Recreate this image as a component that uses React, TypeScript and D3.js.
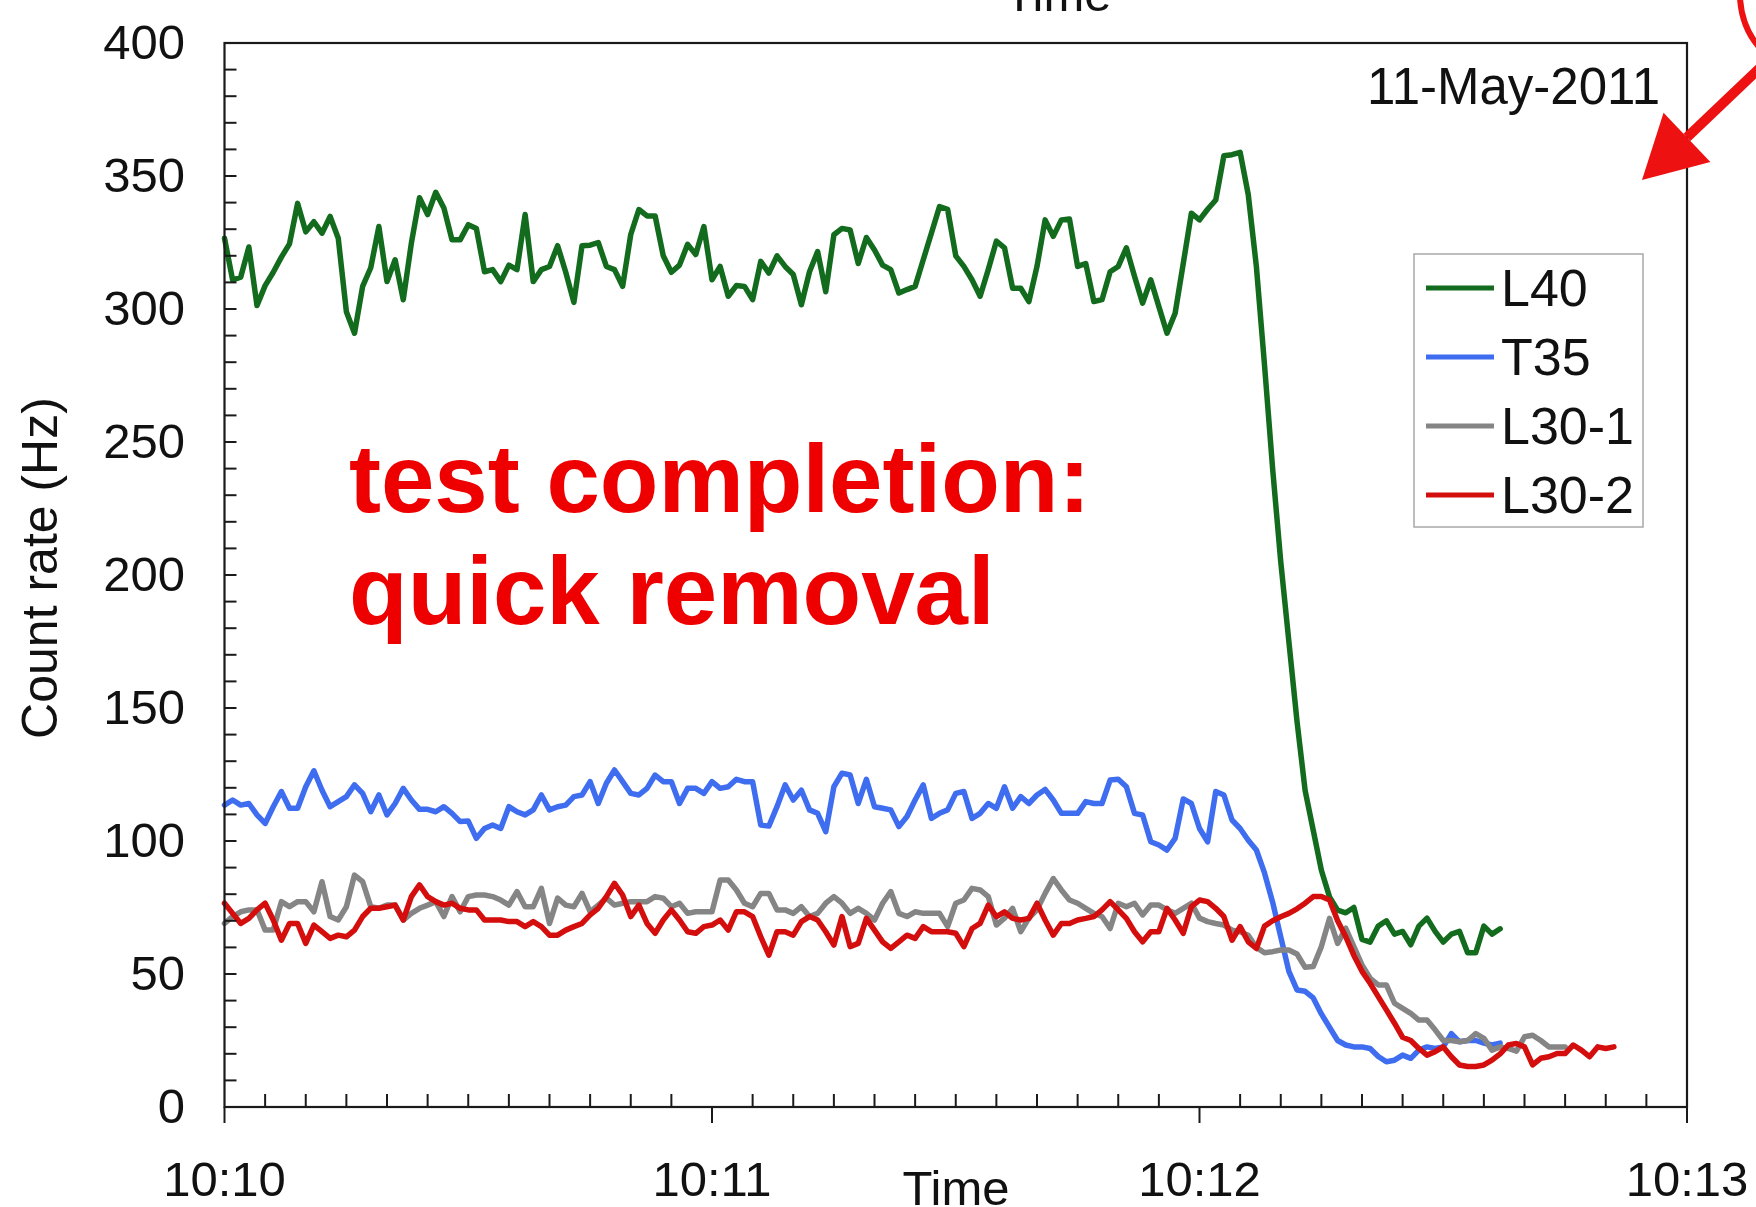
import React from "react";
import * as d3 from "d3";

// Count rates sampled once per second, starting at 10:10:00
const L40 = [
  326.6, 310.9, 312, 323.3, 301.3, 308.8, 313.8, 319.5, 324.5, 339.7, 329, 332.8, 328.5, 334.8, 326.6, 299,
  290.9, 308.5, 315.5, 331, 310.3, 318.5, 303.5, 324.8, 341.8, 335.5, 343.9, 338, 326, 326, 331.7, 330.3,
  314, 314.8, 310.3, 316.5, 314.8, 335.5, 310.3, 314.8, 316, 323.8, 313.8, 302.5, 323.8, 324, 325, 316,
  314.8, 308.5, 328, 337.4, 335, 335, 320, 313.8, 316.5, 324.3, 320.5, 331, 311, 316, 304.8, 308.8,
  308.5, 303.5, 317.9, 313.5, 320, 316, 313, 301.6, 314, 321.6, 306.5, 327.9, 330.3, 329.7, 317.1, 326.9,
  322.2, 316.5, 314.8, 306, 307.3, 308.5, 318.5, 328.5, 338.5, 337.5, 320, 316, 311, 304.8, 314.8, 325.5,
  323, 307.8, 307.8, 302.8, 316, 333.5, 327.3, 333.5, 333.8, 316, 317.1, 302.8, 303.5, 314, 316, 323,
  312.3, 302.2, 311, 300.9, 290.9, 298.4, 317.1, 336, 333.5, 337.5, 341, 357.6, 358, 358.9,
  343, 316, 279, 240, 205, 175, 145, 119, 104, 89, 79, 74, 73, 75, 63, 62,
  68, 70, 65, 66, 61, 68, 71, 66, 62, 65, 66, 58, 58, 68, 65, 67,
];

const T35 = [
  113.5, 115.4, 113.5, 114.1, 109.8, 106.6, 112.9, 118.6, 112.3, 112.3, 120.4, 126.4, 119.1, 112.9, 114.8, 116.7,
  121.1, 117.9, 111, 117.3, 109.8, 114.1, 119.8, 115.4, 111.9, 111.9, 111, 112.9, 110.4, 107.3, 107.5, 101,
  104.7, 106, 104.7, 112.9, 111, 109.8, 111.7, 117.3, 111.7, 112.9, 113.5, 116.7, 117.3, 122.3, 114.1, 121.7,
  126.7, 122.3, 117.9, 117.3, 119.8, 124.8, 122.3, 122.3, 114.1, 119.8, 119.8, 117.9, 122.3, 119.8, 120.4, 123.2,
  122.3, 122.3, 106, 105.6, 112.9, 121.1, 115.4, 119.1, 111.7, 110.4, 103.5, 120.4, 125.5, 124.8, 114.1, 123.2,
  112.9, 112.3, 111.7, 105.4, 109.2, 115.4, 121.1, 108.5, 110.4, 111.7, 117.9, 118.6, 108.5, 110.4, 114.1, 112.3,
  120.4, 112.3, 116.7, 114.1, 117.3, 119.4, 115.4, 110.4, 110.4, 110.4, 114.8, 114.1, 114.1, 122.9, 123.2, 120.4,
  110.4, 109.8, 99.7, 98.5, 96.6, 101, 115.8, 114.1, 104.7, 99.7, 118.6, 117.3, 107.9, 104.7, 100.3, 96.6,
  88, 77, 64, 51, 44, 43.5, 41, 35, 30, 25, 23.3, 22.6, 22.6, 22, 19, 17,
  17.6, 19.5, 18.3, 21.4, 22.6, 22, 22.6, 27.6, 24.5, 25, 25, 24, 23.3, 24,
];

const L30_1 = [
  69, 71.6, 73.4, 74.1, 74.1, 66.5, 66.5, 77.2, 75.3, 77.2, 77.2, 73.4, 84.7, 71.6, 70.3, 75.3,
  87.2, 84.7, 75.3, 74.7, 75.9, 75.9, 70.3, 72.8, 74.7, 75.9, 77.2, 71.6, 79.1, 73.4, 79.1, 79.7,
  79.7, 79.1, 77.8, 75.9, 81, 75.3, 75.3, 82.2, 69, 78.5, 75.9, 75.3, 80.3, 73.4, 75.9, 78.5,
  75.9, 76.6, 77.2, 77.2, 77.2, 79.1, 78.5, 75.3, 76.6, 72.8, 73.4, 73.4, 73.4, 85.3, 85.3, 81.6,
  76.6, 75.3, 80.3, 80.3, 74.1, 74.1, 72.8, 75.3, 71.6, 72.8, 76.6, 79.1, 76.6, 72.8, 74.7, 72.8,
  70.3, 76.6, 81, 72.8, 71.6, 73.4, 72.8, 72.8, 72.8, 67.8, 76.6, 77.8, 82.2, 81.6, 79.1, 68.4,
  71, 74.7, 65.9, 71, 74.1, 80.3, 85.9, 81.6, 77.8, 76.6, 74.7, 72.8, 71.6, 67.1, 76.6, 75.3,
  76.6, 72.2, 75.9, 75.9, 74.1, 72.8, 74.7, 76.6, 71, 69.7, 69, 68.4, 66.5, 65.9, 64.6, 60,
  58, 58.4, 59, 59, 57.5, 52.5, 52.8, 60.3, 70.9, 61.5, 67.2, 60.3, 53.4, 48.4, 45.9, 45.9,
  39, 37.1, 35.2, 32.7, 32.7, 29, 25, 25, 24.5, 25, 27.6, 25.8, 21.4, 22.6, 22, 21,
  26.4, 27, 25, 22.6, 22.6, 22.6,
];

const L30_2 = [
  76.6, 72.8, 69, 70.9, 74.1, 76.6, 70.3, 62.7, 69, 69, 61.5, 68.4, 65.9, 63.4, 64.6, 64,
  66.5, 71.6, 74.7, 74.7, 75.3, 75.9, 70.3, 79.1, 83.5, 79.1, 77.2, 75.9, 76.6, 74.7, 74.1, 74.1,
  70.3, 70.3, 70.3, 69.7, 69.7, 67.8, 69.7, 67.8, 64.6, 64.6, 66.5, 67.8, 69, 72.2, 74.7, 79.1,
  84.1, 79.7, 71.6, 75.9, 69, 65.3, 70.3, 74.1, 70.3, 65.9, 65.3, 67.8, 68.4, 70.3, 66.5, 73.4,
  73.4, 71.6, 64, 57.1, 65.9, 65.9, 64.6, 69.7, 71.6, 70.3, 65.9, 60.9, 71.6, 60.3, 61.5, 70.9,
  66.5, 62.1, 59.6, 62.1, 64.6, 63.4, 67.8, 65.9, 65.9, 65.9, 65.3, 60.3, 67.1, 69, 75.9, 71.6,
  73.4, 70.9, 70.3, 70.9, 76.6, 70.3, 64.6, 69, 69, 70.3, 70.9, 71.6, 74.1, 77.2, 74.1, 70.9,
  65.9, 62.1, 65.9, 65.9, 74.7, 70.3, 65.3, 75.3, 77.8, 77.2, 74.7, 71.6, 62.7, 67.8, 62.1, 59.6,
  68, 70, 71.5, 72.8, 74.5, 76.6, 79.1, 79.1, 77.8, 70, 64, 57, 51, 46.5, 41.5, 36.5,
  31.5, 26.2, 25, 22, 19.5, 20.8, 22.6, 18.9, 15.8, 15.2, 15.2, 15.8, 17.6, 20, 23.3, 23.9,
  22.6, 15.8, 18.3, 18.9, 20.1, 20.1, 23.3, 21.4, 18.9, 22.6, 22, 22.6,
];

const SERIES_NAMES = ["L40", "T35", "L30-1", "L30-2"];
const SERIES_VALUES = [L40, T35, L30_1, L30_2];
const SERIES_COLORS = ["#136b1e", "#3f6df0", "#858585", "#d40d0d"];

const X_TICK_SECONDS = [0, 60, 120, 180];
const X_TICK_LABELS = ["10:10", "10:11", "10:12", "10:13"];
const Y_TICKS = [0, 50, 100, 150, 200, 250, 300, 350, 400];

const DATE_LABEL = "11-May-2011";
const NOTE_LINES = ["test completion:", "quick removal"];

const W = 1756;
const H = 1207;
const FONT = "'Liberation Sans', Arial, Helvetica, sans-serif";

export default function App() {
  const left = 224.5;
  const right = 1687;
  const top = 43;
  const bottom = 1107;

  const x = d3.scaleLinear().domain([0, 180]).range([left, right]);
  const y = d3.scaleLinear().domain([0, 400]).range([bottom, top]);

  const line = d3
    .line<number>()
    .x((_, i) => x(i))
    .y((v) => y(v))
    .curve(d3.curveLinear);

  const minorX = d3.range(5, 180, 5).filter((s) => s % 60 !== 0);
  const minorY = d3.range(10, 400, 10);

  // arrow pointing down-left toward the date label
  const tip: [number, number] = [1642, 180];
  const tail: [number, number] = [1762, 66];
  const dx = tail[0] - tip[0];
  const dy = tail[1] - tip[1];
  const len = Math.hypot(dx, dy);
  const ux = dx / len;
  const uy = dy / len;
  const headLen = 62;
  const headHalf = 34;
  const bx = tip[0] + ux * headLen;
  const by = tip[1] + uy * headLen;
  const head = [
    tip,
    [bx - uy * headHalf, by + ux * headHalf],
    [bx + uy * headHalf, by - ux * headHalf],
  ];

  const legendX = 1414;
  const legendY = 254;
  const legendRow = 69;

  return (
    <svg
      width={W}
      height={H}
      viewBox={`0 0 ${W} ${H}`}
      style={{ position: "absolute", left: 0, top: 0, display: "block", background: "#fff" }}
      fontFamily={FONT}
    >
      <rect x={0} y={0} width={W} height={H} fill="#fff" />

      {/* axis title of the panel above, cut by the top edge */}
      <text x={1058} y={11} fontSize={49} textAnchor="middle" fill="#111">
        Time
      </text>

      {/* series */}
      <g fill="none" strokeWidth={5.5} strokeLinejoin="round" strokeLinecap="round">
        {SERIES_VALUES.map((vals, k) => (
          <path key={SERIES_NAMES[k]} d={line(vals) ?? ""} stroke={SERIES_COLORS[k]} />
        ))}
      </g>

      {/* frame */}
      <rect x={left} y={top} width={right - left} height={bottom - top} fill="none" stroke="#1a1a1a" strokeWidth={2.2} />

      {/* ticks: minor ones inside, minute marks below the axis */}
      <g stroke="#1a1a1a" strokeWidth={2}>
        {minorY.map((v) => (
          <line key={v} x1={left} x2={left + 12} y1={y(v)} y2={y(v)} />
        ))}
        {minorX.map((s) => (
          <line key={s} x1={x(s)} x2={x(s)} y1={bottom} y2={bottom - 13} />
        ))}
        {X_TICK_SECONDS.map((s) => (
          <line key={"M" + s} x1={x(s)} x2={x(s)} y1={bottom} y2={bottom + 16} />
        ))}
      </g>

      {/* tick labels */}
      <g fontSize={49} fill="#111">
        {Y_TICKS.map((v) => (
          <text key={v} x={185} y={y(v) + 16} textAnchor="end">
            {v}
          </text>
        ))}
        {X_TICK_SECONDS.map((s, i) => (
          <text key={s} x={x(s)} y={1196} textAnchor="middle">
            {X_TICK_LABELS[i]}
          </text>
        ))}
      </g>

      <text x={956} y={1205} fontSize={49} textAnchor="middle" fill="#111">
        Time
      </text>
      <text
        transform={`translate(57, 568) rotate(-90)`}
        fontSize={50}
        textAnchor="middle"
        fill="#111"
      >
        Count rate (Hz)
      </text>

      <text x={1660} y={104} fontSize={51} textAnchor="end" fill="#111">
        {DATE_LABEL}
      </text>

      {/* legend */}
      <rect x={legendX} y={legendY} width={229} height={273} fill="#fff" stroke="#a8a8a8" strokeWidth={1.5} />
      {SERIES_NAMES.map((name, k) => {
        const ly = legendY + 34 + k * legendRow;
        return (
          <g key={name}>
            <line x1={legendX + 12} x2={legendX + 80} y1={ly} y2={ly} stroke={SERIES_COLORS[k]} strokeWidth={5} />
            <text x={legendX + 87} y={ly + 18} fontSize={52} fill="#111">
              {name}
            </text>
          </g>
        );
      })}

      {/* annotation */}
      <g fontSize={96} fontWeight="bold" fill="#ee0000">
        <text x={349} y={512}>{NOTE_LINES[0]}</text>
        <text x={349} y={624}>{NOTE_LINES[1]}</text>
      </g>

      {/* red arrow and circle fragment */}
      <line x1={tail[0]} y1={tail[1]} x2={bx} y2={by} stroke="#ee1111" strokeWidth={10} />
      <polygon points={head.map((p) => p.join(",")).join(" ")} fill="#ee1111" />
      <path d="M 1740 -2 Q 1742 30 1762 50" fill="none" stroke="#ee1111" strokeWidth={6} />
    </svg>
  );
}
